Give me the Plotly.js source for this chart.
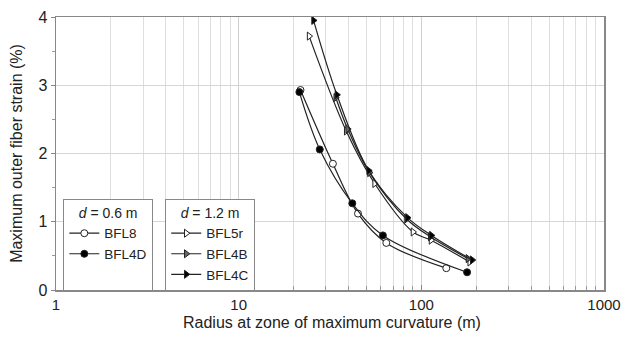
<!DOCTYPE html>
<html>
<head>
<meta charset="utf-8">
<script src="https://cdn.plot.ly/plotly-3.0.1.min.js"></script>
<style>html,body{margin:0;padding:0;background:#fff;}#chart{width:624px;height:338px;}</style>
</head>
<body>
<div id="chart"></div>
<script>
// Data (radius in m, strain in %)
const bfl8R = [21.8, 32.8, 45, 64.3, 137];
const bfl8S = [2.93, 1.85, 1.12, 0.69, 0.32];
const bfl4dR = [21.5, 27.8, 41.9, 61.6, 178];
const bfl4dS = [2.90, 2.06, 1.27, 0.80, 0.26];
const bfl5rR = [24.3, 38.8, 55.5, 90, 113, 184];
const bfl5rS = [3.72, 2.33, 1.56, 0.85, 0.73, 0.41];
const bfl4bR = [34.0, 39.5, 52.0, 83.0, 112, 180];
const bfl4bS = [2.82, 2.36, 1.72, 1.04, 0.78, 0.46];
const bfl4cR = [25.7, 34.5, 51.5, 84.0, 113.5, 190];
const bfl4cS = [3.95, 2.86, 1.75, 1.06, 0.80, 0.44];

const xMajor = [1, 10, 100, 1000];
const xMinor = [2,3,4,5,6,7,8,9,20,30,40,50,60,70,80,90,200,300,400,500,600,700,800,900];
const yTicks = [0, 1, 2, 3, 4];

const font = "Liberation Sans, Arial, sans-serif";
const lineCol = "#222";

function tr(name, x, y, symbol, fill, legend) {
  return {
    x: x, y: y, name: name, type: "scatter", mode: "lines+markers",
    line: {color: lineCol, width: 1.2, shape: "spline", smoothing: 1},
    marker: {symbol: symbol, size: 7, color: fill, line: {color: "#222", width: 1}},
    legend: legend
  };
}

const data = [
  tr("BFL8", bfl8R, bfl8S, "circle", "#ffffff", "legend"),
  tr("BFL4D", bfl4dR, bfl4dS, "circle", "#000000", "legend"),
  // legend-only spacer so both legend boxes have the same height
  {x: [null], y: [null], name: " ", type: "scatter", mode: "lines", line: {color: "rgba(0,0,0,0)"}, legend: "legend", hoverinfo: "skip"},
  tr("BFL5r", bfl5rR, bfl5rS, "triangle-right", "#ffffff", "legend2"),
  tr("BFL4B", bfl4bR, bfl4bS, "triangle-right", "#666666", "legend2"),
  tr("BFL4C", bfl4cR, bfl4cS, "triangle-right", "#000000", "legend2")
];

const legendCommon = {
  xanchor: "left", yanchor: "top",
  bgcolor: "#fff", bordercolor: "#888", borderwidth: 1.2,
  font: {size: 13.5}, tracegroupgap: 0, itemwidth: 30
};

const layout = {
  width: 624, height: 338,
  margin: {l: 56, r: 20, t: 17, b: 48},
  paper_bgcolor: "#fff", plot_bgcolor: "#fff",
  font: {family: font, size: 15, color: "#222"},
  showlegend: true,
  xaxis: {
    type: "log", range: [0, 3], automargin: false,
    tickvals: xMajor, ticktext: xMajor.map(String),
    showgrid: true, gridcolor: "#d0d0d0", gridwidth: 1,
    ticks: "inside", ticklen: 5, tickcolor: "#888",
    showline: true, linecolor: "#888", linewidth: 1.5, mirror: true,
    zeroline: false,
    minor: {tickvals: xMinor, showgrid: true, gridcolor: "#dedede", gridwidth: 1, ticks: "inside", ticklen: 4, tickcolor: "#999"},
    tickfont: {size: 15}
  },
  yaxis: {
    range: [0, 4], tickvals: yTicks,
    showgrid: true, gridcolor: "#d6d6d6", gridwidth: 1,
    ticks: "outside", ticklen: 4, tickcolor: "#888",
    showline: true, linecolor: "#888", linewidth: 1.5, mirror: true,
    zeroline: false,
    minor: {dtick: 0.5, ticks: "outside", ticklen: 3, tickcolor: "#999", showgrid: false},
    title: {text: "Maximum outer fiber strain (%)", font: {size: 16}, standoff: 12},
    tickfont: {size: 16}
  },
  annotations: [{
    text: "Radius at zone of maximum curvature (m)",
    xref: "paper", yref: "paper", x: 0.504, y: -0.118,
    xanchor: "center", yanchor: "middle", showarrow: false,
    font: {size: 16}
  }],
  legend: Object.assign({}, legendCommon, {
    x: 0.013, y: 0.335,
    title: {text: "<i>d</i> = 0.6 m", font: {size: 14}, side: "top center"}
  }),
  legend2: Object.assign({}, legendCommon, {
    x: 0.199, y: 0.335,
    title: {text: "<i>d</i> = 1.2 m", font: {size: 14}, side: "top center"}
  })
};

Plotly.newPlot("chart", data, layout, {displayModeBar: false, staticPlot: true});
</script>
</body>
</html>
